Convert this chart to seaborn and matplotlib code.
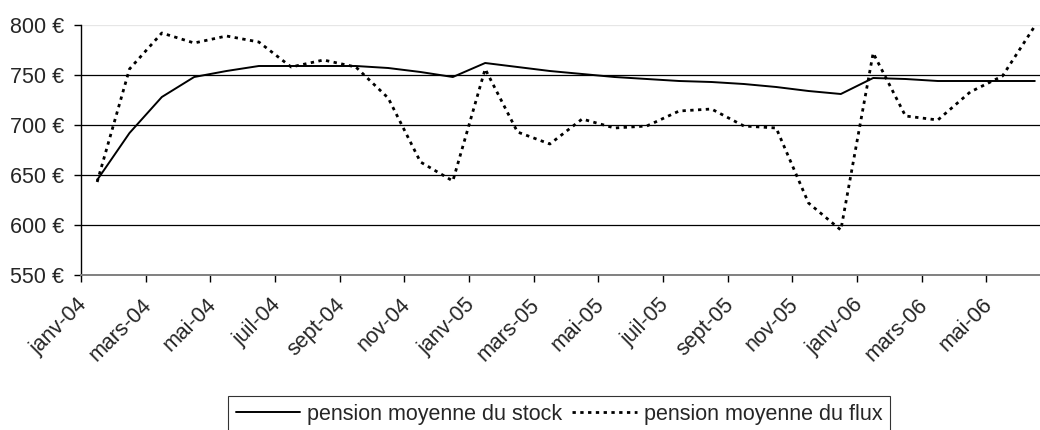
import matplotlib
matplotlib.use("Agg")
import matplotlib.pyplot as plt
import matplotlib.ticker as mticker
import matplotlib.transforms as mtransforms
import numpy as np
import pandas as pd
import seaborn as sns

# monthly periods, janv-04 .. juin-06
periods = [
	"janv-04", "févr-04", "mars-04", "avr-04", "mai-04", "juin-04",
	"juil-04", "août-04", "sept-04", "oct-04", "nov-04", "déc-04",
	"janv-05", "févr-05", "mars-05", "avr-05", "mai-05", "juin-05",
	"juil-05", "août-05", "sept-05", "oct-05", "nov-05", "déc-05",
	"janv-06", "févr-06", "mars-06", "avr-06", "mai-06", "juin-06",
]
stock = [645, 692, 728, 748, 754, 759, 759, 759, 759, 757, 753, 748,
	762, 758, 754, 751, 748, 746, 744, 743, 741, 738, 734, 731,
	747, 746, 744, 744, 744, 744]
flux = [643, 756, 792, 782, 789, 783, 758, 765, 758, 727, 663, 644,
	756, 693, 681, 706, 697, 699, 714, 716, 699, 697, 622, 595,
	772, 709, 705, 733, 749, 799]
y_ticks = [550, 600, 650, 700, 750, 800]
stock_label = "pension moyenne du stock"
flux_label = "pension moyenne du flux"

df = pd.DataFrame({"pos": np.arange(len(periods)), "period": periods, "stock": stock, "flux": flux})

sns.set_style("white")
plt.rcParams["font.family"] = ["Liberation Sans", "DejaVu Sans"]
FS = 15.5

W, H = 1040, 430
fig = plt.figure(figsize=(W / 100, H / 100), dpi=100)
# plot area runs a little past the right edge, as in the cropped original
ax = fig.add_axes([81 / W, 155 / H, 970 / W, 250 / H])

sns.lineplot(data=df, x="pos", y="stock", ax=ax, color="black", linewidth=1.4, label=stock_label)
sns.lineplot(data=df, x="pos", y="flux", ax=ax, color="black", linewidth=2.0,
	linestyle=(0, (1.2, 1.6)), label=flux_label)

ax.set_xlim(-0.5, len(periods) - 0.5)
ax.set_ylim(y_ticks[0], y_ticks[-1])

ax.set_yticks(y_ticks, [f"{v} €" for v in y_ticks])
ax.yaxis.grid(True, color="black", linewidth=0.9)
ax.yaxis.get_gridlines()[-1].set_color("#e6e6e6")
ax.set_axisbelow(True)

label_pos = df["pos"][::2]
ax.set_xticks(label_pos, df["period"][::2])
ax.xaxis.set_minor_locator(mticker.FixedLocator(np.arange(-0.5, len(periods) + 1, 2)))
ax.tick_params(axis="x", which="major", length=0, pad=14, labelsize=FS, labelrotation=45)
ax.tick_params(axis="x", which="minor", length=5, width=1, color="black", direction="out", bottom=True)
ax.tick_params(axis="y", length=5, width=1, color="black", direction="out", left=True, pad=7, labelsize=FS)
shift = mtransforms.ScaledTranslation(-6 / 100, 0, fig.dpi_scale_trans)
for lbl in ax.get_xticklabels():
	lbl.set_ha("right")
	lbl.set_transform(lbl.get_transform() + shift)

ax.set_xlabel("")
ax.set_ylabel("")
for side in ("top", "right"):
	ax.spines[side].set_visible(False)
ax.spines["left"].set_color("black")
ax.spines["left"].set_linewidth(1)
ax.spines["bottom"].set_color("#808080")
ax.spines["bottom"].set_linewidth(1.4)

ax.get_legend().remove()
handles, labels = ax.get_legend_handles_labels()
leg = fig.legend(handles, labels, loc="upper left", bbox_to_anchor=(228 / W, 1 - 396 / H),
	bbox_transform=fig.transFigure, ncol=2, frameon=True, fancybox=False, fontsize=FS,
	handlelength=3.0, handletextpad=0.3, columnspacing=0.5, borderpad=0.35, borderaxespad=0)
leg.get_frame().set_edgecolor("black")
leg.get_frame().set_linewidth(0.8)

fig.savefig("out.png", dpi=100)
